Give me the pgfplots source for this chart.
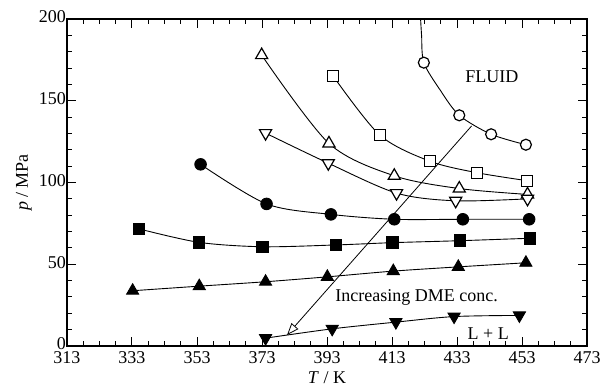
\documentclass[border=0pt]{standalone}
\usepackage{fontspec}
\setmainfont{Liberation Serif}
\usepackage{pgfplots}
\pgfplotsset{compat=1.18}
\usetikzlibrary{arrows.meta}
\begin{document}
\fontsize{18}{21}\selectfont
\begin{tikzpicture}
\begin{axis}[name=ax, scale only axis, width=520pt, height=327pt,
  xmin=313, xmax=473, ymin=0, ymax=200,
  xtick={313,333,...,473}, ytick={0,50,...,200},
  minor x tick num=3, minor y tick num=4,
  tick align=inside, major tick length=9pt, minor tick length=5pt,
  axis line style={line width=1.2pt},
  every tick/.append style={line width=1pt, black},
  /pgf/number format/assume math mode=true,
  tick label style={font=\fontsize{18}{21}\selectfont},
  yticklabel style={inner sep=1pt, yshift=2pt, text depth=0pt},
  xticklabel style={inner sep=2pt, yshift=-3pt, text height=12pt},
  xlabel={\textit{T} / K}, ylabel={\textit{p} / MPa},
  label style={font=\fontsize{18}{21}\selectfont},
  xlabel style={at={(rel axis cs:0.5,0)}, anchor=center, yshift=-32pt, inner sep=0pt},
  clip=false]
% open circles
\addplot[black, line width=0.9pt, smooth] coordinates {(421.8,200) (422.1,190) (422.8,173.3) (427.8,156.6) (433.7,141.1) (443.5,129.5) (454.2,123.1)};
\addplot[only marks, mark=*, mark size=5.5pt, mark options={fill=white, draw=black, line width=1.2pt}] coordinates {(422.8,173.3) (433.7,141.1) (443.5,129.5) (454.2,123.1)};
% open squares
\addplot[black, line width=0.9pt, smooth, mark=square*, mark size=5.5pt, mark options={fill=white, draw=black, line width=1.2pt}] coordinates {(394.9,165.1) (409.3,128.9) (424.7,113.0) (439.1,106.0) (454.6,101.1)};
% open up triangles
\addplot[black, line width=0.9pt, smooth, mark=triangle*, mark size=7pt, mark options={fill=white, draw=black, line width=1.2pt}] coordinates {(372.9,177.9) (393.6,123.9) (413.7,104.1) (433.7,96.3) (454.7,92.7)};
% open down triangles
\addplot[black, line width=0.9pt, smooth, mark=triangle*, mark size=7pt, mark options={rotate=180, fill=white, draw=black, line width=1.2pt}] coordinates {(374.1,130.2) (393.4,111.8) (414.4,93.5) (432.6,88.8) (454.7,90.0)};
% filled circles
\addplot[black, line width=0.9pt, smooth, mark=*, mark size=5.8pt, mark options={fill=black}] coordinates {(354.1,111.1) (374.4,86.9) (394.2,80.5) (413.7,77.5) (434.8,77.5) (455.2,77.5)};
% filled squares
\addplot[black, line width=0.9pt, smooth, mark=square*, mark size=5.8pt, mark options={fill=black}] coordinates {(335.2,71.6) (353.6,63.4) (373.1,60.7) (395.7,61.8) (413.1,63.2) (433.9,64.4) (455.5,65.9)};
% filled up triangles
\addplot[black, line width=0.9pt, smooth, mark=triangle*, mark size=7pt, mark options={fill=black}] coordinates {(333.2,33.8) (353.7,36.6) (374.1,39.3) (393.1,42.3) (413.4,45.8) (433.4,48.4) (454.2,50.9)};
% filled down triangles
\addplot[black, line width=0.9pt, smooth, mark=triangle*, mark size=7pt, mark options={rotate=180, fill=black}] coordinates {(374.1,4.8) (394.6,10.5) (414.2,14.6) (432.1,18.0) (452.2,18.7)};
% annotations
\draw[black, line width=0.8pt, -{Triangle[open, length=12pt, width=9pt]}] (axis cs:437.5,134.6) -- (axis cs:380.7,6.7);
\node at (axis cs:443.7,164.7) {FLUID};
\node at (axis cs:420.6,29.8) {Increasing DME conc.};
\node at (axis cs:442.6,7.3) {L + L};
\end{axis}
\pgfresetboundingbox
\path ([xshift=-67pt,yshift=-44pt]ax.south west) rectangle ([xshift=13pt,yshift=19pt]ax.north east);
\end{tikzpicture}
\end{document}
